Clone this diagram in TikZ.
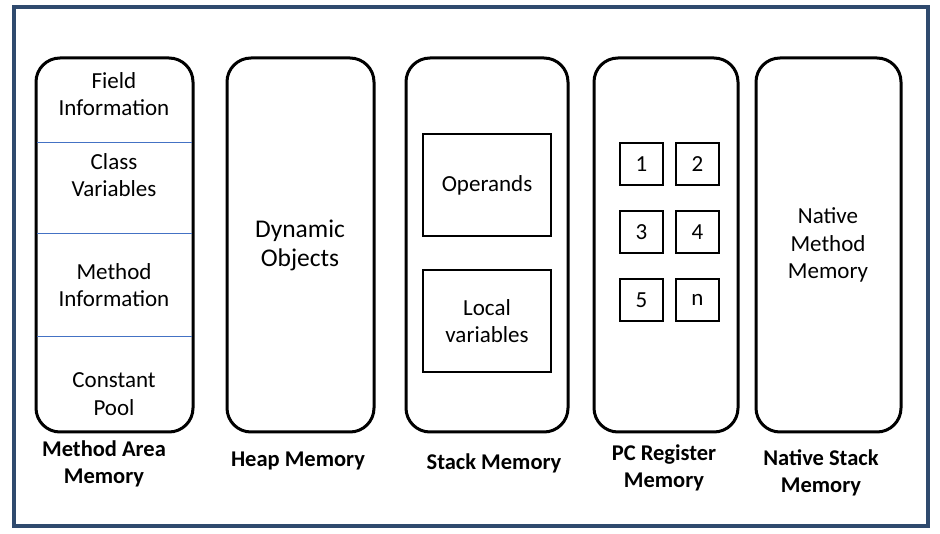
\documentclass[tikz,border=0pt]{standalone}
\usepackage{fontspec}
\setmainfont{Carlito}
\definecolor{frame}{HTML}{2F4A6E}
\definecolor{divider}{HTML}{4472C4}
\begin{document}
\begin{tikzpicture}[x=1pt,y=-1pt,
  membox/.style={draw=black,line width=3pt,rounded corners=24pt},
  inbox/.style={draw=black,line width=2.6pt},
  txt/.style={font=\fontsize{23}{27.5}\selectfont,align=center,inner sep=0pt},
  bigtxt/.style={font=\fontsize{25.5}{29}\selectfont,align=center,inner sep=0pt},
  lbl/.style={font=\bfseries\fontsize{22.5}{27}\selectfont,align=center,inner sep=0pt},
  divline/.style={draw=divider,line width=1pt}]
\useasboundingbox (0,0) rectangle (940,534);
\fill[white] (0,0) rectangle (940,534);
\draw[frame,line width=3.2pt] (14,7) rectangle (928,526);
% Method area
\draw[membox] (36,58) rectangle (193,432);
\draw[divline] (37,143) -- (192,143);
\draw[divline] (37,234) -- (192,234);
\draw[divline] (37,337) -- (192,337);
\node[txt] (fi) at (114,94) {Field\\Information};
\node[txt] (cv) at (114,175) {Class\\Variables};
\node[txt] (mi) at (114,285) {Method\\Information};
\node[txt] (cp) at (114,394) {Constant\\Pool};
\node[lbl] (ma) at (104,464) {Method Area\\Memory};
% Heap
\draw[membox] (227,58) rectangle (374,432);
\node[bigtxt] (dyn) at (300,245) {Dynamic\\Objects};
\node[lbl] (hm) at (298,461) {Heap Memory};
% Stack
\draw[membox] (406,58) rectangle (568,432);
\draw[inbox] (423,134) rectangle (551,236);
\draw[inbox] (423,270) rectangle (551,372);
\node[txt] (op) at (487,185) {Operands};
\node[txt] (lv) at (487,321) {Local\\variables};
\node[lbl] (sm) at (494,463) {Stack Memory};
% PC register
\draw[membox] (594,58) rectangle (738,432);
\foreach \n/\x/\y in {1/620/143,2/676/143,3/620/211,4/676/211,5/620/279,n/676/279}{
  \draw[inbox] (\x,\y) rectangle ++(43,42);
  \node[txt] (r\n) at (\x+21.5,\y+21) {\n};
}
\node[lbl] (pc) at (664,468) {PC Register\\Memory};
% Native stack
\draw[membox] (756,58) rectangle (901,432);
\node[txt] (nm) at (828,245) {Native\\Method\\Memory};
\node[lbl] (ns) at (821,473) {Native Stack\\Memory};
\end{tikzpicture}
\end{document}
